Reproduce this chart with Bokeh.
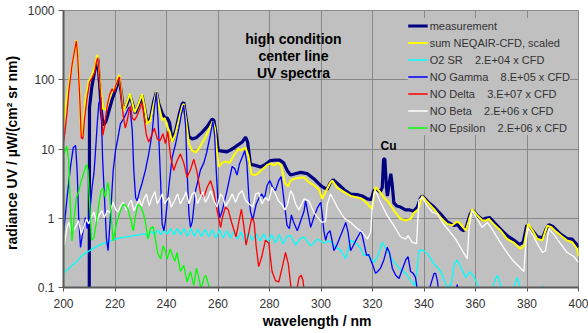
from bokeh.plotting import figure
from bokeh.models import FixedTicker, NumeralTickFormatter, Label, Range1d
from bokeh.embed import file_html
from bokeh.resources import INLINE

# ---------------- data ----------------
x_ticks = [200, 220, 240, 260, 280, 300, 320, 340, 360, 380, 400]
y_ticks = [0.1, 1, 10, 100, 1000]

meas_nm = [210.0, 210.1, 211.0, 212.0, 212.8, 213.3, 214.0, 214.7, 215.4, 216.5,
           217.6, 218.9, 220.2, 221.5, 222.3, 223.2, 224.4, 225.8, 226.8, 227.8,
           229.0, 230.5, 231.4, 232.5, 233.8, 235.0, 236.1, 237.0, 238.3, 239.4,
           240.3, 241.2, 242.2, 243.5, 245.0, 246.1, 246.7, 247.6, 248.7, 250.0,
           251.5, 253.8, 255.8, 257.7, 258.4, 259.3, 260.1, 261.5, 263.5, 265.5,
           267.4, 269.4, 270.7, 271.5, 272.6, 274.5, 276.5, 278.4, 280.4, 282.0,
           284.0, 285.5, 287.0, 288.2, 290.0, 292.1, 294.7, 297.3, 299.9, 301.0,
           302.4, 303.5, 304.7, 306.3, 308.9, 311.5, 314.0, 316.0, 318.0, 319.5,
           320.5, 321.5, 323.0, 323.8, 324.3, 324.8, 325.4, 325.8, 326.5, 327.1,
           327.6, 328.3, 329.5, 330.9, 332.8, 334.5, 336.0, 337.4, 338.5, 339.3,
           340.5, 342.0, 343.9, 346.5, 349.0, 350.5, 351.6, 353.0, 354.5, 355.5,
           356.5, 357.8, 358.9, 360.5, 362.6, 364.0, 365.5, 367.5, 369.8, 372.3,
           375.0, 377.0, 378.5, 379.9, 381.5, 384.0, 386.0, 387.5, 388.5, 390.0,
           393.0, 395.6, 397.5, 399.5, 400.0]
meas_val = [0.09, 40, 79, 126, 178, 200, 89, 35, 22, 25,
            35, 52, 71, 107, 71, 38, 42, 59, 45, 33,
            42, 59, 40, 24, 28, 48, 66, 45, 33, 28,
            28, 24, 13, 18, 32, 45, 47, 28, 15, 14,
            14.5, 17.4, 21, 27, 26, 16, 9.5, 9.3, 9.1, 10,
            11.2, 12.6, 14.8, 12.6, 6.0, 5.8, 5.5, 6.0, 6.8, 6.9,
            6.9, 6.3, 4.8, 4.2, 4.4, 4.6, 4.4, 3.7, 2.95, 2.8,
            2.6, 3.2, 3.6, 3.2, 2.6, 2.24, 2.2, 2.1, 1.9, 1.86,
            2.5, 2.6, 2.4, 2.8, 7.1, 7.2, 2.8, 2.1, 3.2, 4.4,
            3.2, 1.66, 1.5, 1.45, 1.32, 1.32, 1.26, 1.45, 1.9, 2.1,
            1.9, 1.66, 1.45, 1.15, 0.89, 0.83, 0.79, 0.81, 0.69, 0.66,
            0.76, 1.12, 1.32, 1.12, 0.95, 1.0, 1.02, 0.85, 0.69, 0.56,
            0.48, 0.42, 0.45, 0.79, 0.71, 0.54, 0.52, 0.71, 0.81, 0.76,
            0.59, 0.51, 0.50, 0.41, 0.38]

sum_nm = [200.0, 201.0, 202.1, 203.4, 204.7, 205.0, 205.6, 206.3, 206.9, 207.4,
          208.5, 209.8, 211.0, 212.2, 213.1, 213.8, 214.4, 215.4, 216.5, 217.6,
          218.9, 220.2, 221.1, 221.7, 222.4, 223.2, 224.4, 225.8, 226.7, 227.6,
          228.8, 230.5, 231.5, 232.5, 233.8, 235.1, 236.1, 237.0, 238.3, 239.3,
          240.3, 241.2, 242.2, 243.5, 245.0, 246.2, 246.7, 247.6, 248.7, 250.0,
          251.3, 252.5, 254.0, 255.5, 257.0, 257.9, 258.8, 259.5, 260.3, 261.5,
          263.0, 264.5, 266.0, 267.8, 269.0, 270.7, 271.8, 273.0, 274.5, 276.0,
          277.5, 279.1, 280.5, 281.8, 283.2, 284.5, 286.0, 287.2, 288.2, 289.4,
          291.0, 293.4, 295.3, 297.3, 299.2, 300.5, 302.0, 303.5, 304.4, 306.3,
          308.9, 311.5, 314.0, 316.0, 318.0, 319.9, 320.6, 321.2, 322.5, 324.4,
          326.3, 328.3, 330.9, 332.9, 334.8, 336.1, 337.8, 339.3, 340.8, 343.9,
          346.5, 349.0, 351.0, 352.7, 353.6, 355.0, 356.2, 357.3, 358.7, 360.5,
          362.6, 364.0, 365.2, 367.5, 369.8, 372.3, 375.0, 377.5, 378.8, 380.4,
          382.0, 384.0, 386.0, 387.0, 387.9, 389.5, 391.5, 393.7, 395.5, 397.6,
          399.5, 400.0]
sum_val = [20, 45, 89, 158, 316, 372, 224, 56, 16, 15.5,
           50, 95, 112, 158, 229, 141, 78, 38, 37, 52,
           69, 79, 107, 117, 71, 35, 45, 63, 47, 34,
           42, 62, 40, 23, 26, 45, 68, 43, 26, 28,
           21, 18, 12.6, 16.6, 28, 42, 45, 25, 11.7, 9.5,
           8.9, 10, 12.6, 15.8, 21, 25, 20, 10, 5.5, 6.3,
           6.6, 6.3, 7.9, 10, 9.5, 10.5, 7.9, 4.3, 4.2, 4.6,
           5.2, 5.9, 6.2, 5.8, 6.3, 5.8, 3.2, 2.9, 3.5, 3.7,
           3.8, 3.9, 3.3, 3.0, 2.6, 1.9, 2.5, 3.2, 3.5, 2.75,
           2.4, 2.1, 2.0, 1.9, 1.62, 1.35, 2.24, 2.8, 2.5, 2.0,
           1.7, 1.29, 0.98, 0.93, 0.98, 1.2, 1.35, 2.1, 1.8, 1.35,
           1.02, 0.83, 0.79, 0.89, 0.87, 0.76, 0.66, 0.89, 1.35, 1.12,
           0.93, 0.93, 0.98, 0.79, 0.66, 0.50, 0.44, 0.36, 0.40, 0.83,
           0.68, 0.50, 0.48, 0.63, 0.78, 0.74, 0.63, 0.54, 0.48, 0.45,
           0.36, 0.28]

o2_nm = [200.0, 201.5, 203.4, 205.3, 207.2, 209.5, 211.8, 214.4, 217.0, 219.5,
         222.1, 224.7, 227.3, 229.9, 231.5, 232.8, 234.0, 235.3, 236.5, 237.8,
         239.0, 240.3, 241.6, 242.9, 244.2, 245.5, 246.8, 248.1, 249.5, 250.8,
         252.2, 253.6, 255.0, 256.4, 257.8, 259.2, 260.6, 262.0, 263.4, 264.8,
         266.2, 267.6, 269.0, 270.4, 271.8, 273.3, 274.8, 276.3, 277.8, 279.3,
         280.8, 282.3, 283.8, 285.3, 286.8, 288.2, 290.1, 291.8, 293.4, 296.0,
         298.6, 301.2, 303.0, 304.4, 305.7, 307.6, 309.6, 311.5, 313.5, 315.4,
         316.7, 318.0, 320.6, 322.0, 323.8, 325.7, 327.7, 330.3, 332.9, 334.8,
         336.4, 337.3, 338.0, 339.3, 341.3, 343.9, 346.5, 349.0, 350.5, 351.8,
         352.9, 354.5, 356.2, 357.8, 359.5, 361.2, 363.3, 366.0, 367.5, 368.5,
         370.0, 372.0, 374.8, 376.2, 377.8, 380.0, 385.0, 386.2, 387.5, 389.0]
o2_val = [0.16, 0.18, 0.21, 0.24, 0.29, 0.33, 0.37, 0.42, 0.45, 0.49,
          0.52, 0.54, 0.56, 0.58, 0.60, 0.55, 0.65, 0.58, 0.68, 0.58,
          0.69, 0.59, 0.71, 0.58, 0.71, 0.58, 0.71, 0.55, 0.71, 0.55,
          0.69, 0.54, 0.69, 0.54, 0.68, 0.52, 0.68, 0.52, 0.66, 0.52,
          0.65, 0.50, 0.63, 0.46, 0.62, 0.48, 0.60, 0.47, 0.59, 0.45,
          0.58, 0.44, 0.58, 0.43, 0.55, 0.56, 0.41, 0.50, 0.54, 0.40,
          0.50, 0.44, 0.47, 0.44, 0.38, 0.35, 0.26, 0.48, 0.44, 0.37,
          0.29, 0.30, 0.23, 0.28, 0.45, 0.34, 0.25, 0.19, 0.16, 0.126,
          0.107, 0.18, 0.34, 0.35, 0.31, 0.22, 0.17, 0.10, 0.11, 0.22,
          0.25, 0.19, 0.14, 0.17, 0.14, 0.10, 0.079, 0.079, 0.126, 0.15,
          0.10, 0.079, 0.10, 0.14, 0.089, 0.063, 0.089, 0.105, 0.079, 0.063]

gamma_nm = [200.0, 201.4, 202.7, 203.8, 204.7, 205.3, 205.9, 206.6, 207.3, 208.0,
            208.5, 209.2, 209.8, 210.5, 211.1, 211.8, 212.4, 213.1, 213.7, 214.5,
            215.2, 215.9, 216.7, 217.3, 218.2, 219.3, 220.2, 221.2, 222.1, 223.5,
            224.7, 225.4, 226.0, 226.7, 227.3, 228.0, 228.6, 229.6, 230.5, 231.8,
            233.1, 234.4, 235.3, 236.1, 236.8, 237.7, 238.3, 239.0, 239.6, 240.9,
            242.2, 243.5, 244.8, 245.8, 246.7, 247.4, 248.0, 248.7, 249.3, 250.0,
            251.3, 253.2, 254.5, 255.6, 257.0, 258.0, 258.7, 259.3, 260.1, 260.7,
            261.6, 263.5, 265.5, 266.5, 267.4, 268.3, 269.4, 270.4, 271.2, 272.0,
            272.6, 273.5, 274.8, 276.0, 277.0, 278.0, 279.1, 280.1, 281.2, 282.3,
            283.6, 284.5, 285.5, 286.8, 287.7, 288.5, 289.3, 290.8, 292.0, 293.4,
            294.0, 294.7, 296.0, 297.3, 298.6, 299.9, 300.5, 301.1, 301.8, 302.5,
            303.5, 304.2, 305.0, 306.3, 307.6, 308.9, 309.6, 310.5, 311.5, 312.5,
            313.8, 315.6, 316.6, 317.7, 318.5, 319.9, 321.2, 322.0, 323.1, 324.4,
            325.7, 326.6, 327.7, 329.0, 330.3, 331.5, 332.9, 333.8, 334.8, 335.8,
            336.7, 337.5, 338.5, 340.5, 342.6, 343.9, 344.5, 345.2, 345.8, 348.0,
            352.3, 352.9, 353.5, 354.0]
gamma_val = [0.6, 2.0, 5.5, 10.5, 11.2, 4.9, 1.02, 0.38, 0.56, 0.79,
             1.02, 0.71, 1.02, 1.6, 2.8, 4.4, 8.9, 23, 45, 56,
             7.1, 2.0, 0.50, 0.34, 1.02, 4.9, 9.5, 14.8, 23, 28,
             35, 40, 35, 18.6, 4.9, 2.0, 1.78, 2.5, 3.2, 4.9,
             8.5, 16.6, 40, 66, 23, 3.5, 0.83, 0.66, 0.93, 2.8,
             7.6, 11.7, 20, 32, 43, 22, 4.9, 1.15, 0.74, 0.89,
             2.5, 5.0, 6.3, 8.9, 15.8, 25, 15.8, 5.0, 1.45, 1.02,
             1.26, 2.5, 5.6, 5.2, 4.2, 6.0, 7.6, 9.5, 6.3, 2.0,
             1.26, 0.95, 1.58, 2.0, 2.24, 1.9, 3.0, 3.5, 2.8, 2.5,
             3.5, 4.0, 2.0, 0.79, 0.71, 1.12, 0.89, 0.66, 0.89, 1.26,
             1.78, 1.32, 0.74, 1.05, 1.41, 1.7, 1.12, 0.66, 0.48, 0.60,
             0.66, 0.50, 0.34, 0.42, 0.56, 0.74, 0.87, 0.63, 0.34, 0.40,
             0.50, 0.66, 0.45, 0.29, 0.30, 0.22, 0.16, 0.17, 0.19, 0.25,
             0.38, 0.32, 0.19, 0.15, 0.135, 0.18, 0.25, 0.28, 0.17, 0.16,
             0.14, 0.089, 0.063, 0.063, 0.11, 0.16, 0.16, 0.126, 0.08, 0.063,
             0.089, 0.11, 0.08, 0.05]

delta_nm = [200.0, 200.6, 201.4, 202.1, 203.4, 204.3, 205.0, 205.5, 206.3, 206.9,
            207.5, 208.2, 209.2, 210.2, 211.1, 212.0, 212.8, 213.3, 213.9, 214.6,
            215.3, 216.0, 217.0, 218.0, 218.9, 219.6, 220.3, 221.1, 221.7, 222.4,
            223.2, 224.0, 224.7, 225.4, 226.0, 226.7, 227.6, 228.5, 229.9, 230.5,
            231.3, 232.2, 233.1, 234.2, 235.3, 236.4, 237.5, 238.6, 239.6, 240.5,
            241.6, 242.8, 244.0, 245.4, 246.7, 248.0, 249.3, 250.6, 251.8, 253.2,
            254.5, 255.8, 257.1, 258.3, 259.7, 261.0, 261.8, 262.9, 264.0, 265.2,
            267.0, 268.1, 269.1, 270.0, 270.9, 272.0, 273.1, 274.0, 274.8, 275.8,
            277.0, 278.4, 279.7, 281.0, 282.3, 283.6, 285.0, 286.2, 287.3, 288.5,
            289.5, 290.5, 291.5, 292.3, 293.0, 293.6, 294.5]
delta_val = [12.6, 18, 35, 71, 170, 263, 363, 224, 56, 14.5,
             14, 28, 56, 93, 107, 126, 182, 209, 126, 45,
             15.8, 22, 43, 62, 74, 66, 83, 98, 110, 63,
             30, 20, 25, 35, 42, 28, 26, 30, 40, 48,
             28, 15.8, 12.6, 15.8, 20, 14, 13.2, 16.6, 12, 18,
             7.6, 4.9, 6.6, 8.5, 6.3, 3.9, 5.0, 7.1, 4.8, 2.3,
             2.0, 2.8, 3.5, 2.5, 1.26, 0.74, 1.05, 1.45, 1.32, 0.89,
             0.54, 0.89, 1.35, 0.79, 0.41, 0.63, 1.02, 0.89, 0.40, 0.20,
             0.28, 0.48, 0.44, 0.17, 0.126, 0.12, 0.20, 0.32, 0.22, 0.089,
             0.08, 0.089, 0.14, 0.15, 0.126, 0.08, 0.05]

beta_nm = [200.0, 200.4, 201.4, 202.1, 203.0, 204.0, 205.0, 205.8, 206.9, 207.9,
           208.9, 209.8, 210.7, 211.8, 212.8, 213.8, 214.9, 215.9, 217.0, 218.0,
           219.3, 220.2, 221.2, 222.1, 223.2, 224.5, 225.4, 226.3, 227.3, 228.3,
           229.4, 230.2, 231.2, 232.2, 233.3, 234.4, 235.5, 236.4, 237.4, 238.3,
           239.3, 240.9, 241.9, 243.2, 244.3, 245.4, 246.7, 247.6, 248.7, 250.0,
           251.0, 252.0, 253.2, 254.1, 255.1, 256.2, 257.1, 258.4, 259.6, 261.0,
           261.9, 262.9, 264.2, 265.5, 266.8, 268.1, 269.4, 270.7, 272.0, 273.5,
           274.6, 275.8, 277.1, 278.4, 279.7, 281.0, 282.3, 283.5, 284.8, 286.0,
           287.0, 288.2, 289.0, 290.1, 291.4, 293.4, 295.3, 297.3, 299.2, 300.5,
           301.8, 302.4, 303.7, 306.3, 308.9, 311.5, 314.1, 316.0, 318.0, 319.3,
           320.0, 320.6, 321.2, 323.1, 325.7, 328.3, 330.9, 332.9, 333.8, 335.4,
           337.1, 338.0, 339.3, 341.3, 343.2, 345.2, 347.1, 349.7, 352.3, 354.9,
           356.8, 357.5, 358.7, 360.6, 362.6, 364.6, 366.5, 369.1, 371.7, 374.3,
           377.5, 378.8, 379.5, 380.4, 382.2, 384.0, 386.0, 387.2, 388.5, 390.5,
           393.0, 395.6, 398.2, 400.0]
beta_val = [0.40, 0.43, 0.76, 0.87, 0.66, 0.68, 0.79, 0.93, 0.59, 0.76,
            0.98, 0.83, 1.02, 1.23, 0.87, 1.1, 1.29, 1.02, 1.29, 1.2,
            1.7, 1.35, 1.23, 1.51, 1.7, 1.29, 1.62, 1.82, 1.29, 1.51,
            1.9, 1.45, 1.9, 2.24, 1.51, 2.0, 2.4, 1.62, 1.9, 2.24,
            1.62, 2.0, 1.45, 1.82, 2.24, 1.62, 2.0, 2.4, 1.62, 2.24,
            2.4, 1.62, 2.0, 2.4, 1.7, 2.0, 2.5, 1.82, 1.45, 2.24,
            2.0, 1.51, 1.78, 2.24, 1.7, 2.24, 2.5, 1.82, 1.62, 1.45,
            2.24, 2.34, 1.62, 2.0, 1.78, 2.8, 2.24, 1.78, 1.58, 1.32,
            1.58, 2.5, 2.24, 1.62, 1.32, 1.9, 1.78, 1.2, 0.98, 0.87,
            0.91, 1.58, 2.24, 1.45, 1.02, 0.87, 0.71, 0.63, 0.50, 0.63,
            1.58, 2.24, 2.5, 1.7, 1.1, 0.78, 0.54, 0.50, 0.56, 0.45,
            0.43, 1.82, 2.0, 1.51, 1.23, 1.15, 0.87, 0.66, 0.50, 0.34,
            0.26, 0.74, 1.29, 0.98, 0.74, 0.87, 0.69, 0.48, 0.34, 0.25,
            0.19, 0.17, 0.43, 0.74, 0.58, 0.43, 0.32, 0.34, 0.71, 0.58,
            0.43, 0.32, 0.28, 0.23]

eps_nm = [200.0, 200.1, 201.2, 202.0, 202.6, 203.3, 204.0, 205.0, 206.0, 206.9,
          207.9, 208.9, 209.5, 210.1, 210.9, 211.8, 212.8, 213.7, 214.6, 215.4,
          216.2, 217.2, 217.8, 218.6, 219.3, 220.2, 221.1, 222.1, 223.2, 224.1,
          225.1, 226.3, 227.1, 228.0, 228.9, 230.0, 231.0, 231.8, 232.8, 233.8,
          234.8, 235.7, 236.6, 237.7, 238.7, 239.6, 240.3, 241.4, 242.5, 243.3,
          244.1, 245.4, 246.7, 248.0, 249.3, 250.6, 251.6, 252.5, 253.4, 254.5,
          255.3, 256.4, 257.0]
eps_val = [0.08, 8.3, 11, 7.2, 1.78, 0.47, 0.89, 2.0, 2.5, 3.5,
           4.5, 6.0, 5.0, 1.78, 0.48, 0.52, 0.89, 1.58, 2.5, 2.7,
           2.0, 3.3, 2.5, 1.0, 0.47, 0.71, 1.0, 1.26, 1.58, 1.55,
           1.32, 0.89, 0.66, 1.1, 1.58, 1.48, 1.17, 0.89, 0.50, 0.71,
           0.76, 0.50, 0.31, 0.26, 0.40, 0.33, 0.26, 0.36, 0.28, 0.24,
           0.32, 0.17, 0.21, 0.12, 0.17, 0.107, 0.19, 0.14, 0.095, 0.135,
           0.15, 0.107, 0.063]

NB = "\u00a0"
series = [
    ("measurement", meas_nm, meas_val, "#000080", 3.2),
    ("sum NEQAIR-CFD, scaled", sum_nm, sum_val, "#FFFF00", 2.0),
    ("O2 SR " + NB * 3 + "2.E+04 x CFD", o2_nm, o2_val, "#00FFFF", 1.3),
    ("NO Gamma " + NB * 3 + "8.E+05 x CFD", gamma_nm, gamma_val, "#0000FF", 1.3),
    ("NO Delta " + NB * 3 + "3.E+07 x CFD", delta_nm, delta_val, "#FF0000", 1.3),
    ("NO Beta " + NB * 3 + "2.E+06 x CFD", beta_nm, beta_val, "#FFFFFF", 1.3),
    ("NO Epsilon " + NB * 3 + "2.E+06 x CFD", eps_nm, eps_val, "#00FF00", 1.3),
]

FONT = "Liberation Sans"

p = figure(width=588, height=333, x_range=Range1d(200, 400), y_range=Range1d(0.1, 1000),
           y_axis_type="log", output_backend="svg", toolbar_location=None,
           min_border_left=63, min_border_right=10, min_border_top=10, min_border_bottom=46)
p.background_fill_color = "#C0C0C0"
p.border_fill_color = "white"
p.outline_line_color = "#888888"

for name, xs, ys, col, w in series:
    p.line(xs, ys, line_color=col, line_width=w, legend_label=name)

p.xaxis.ticker = FixedTicker(ticks=x_ticks)
p.yaxis.ticker = FixedTicker(ticks=y_ticks)
p.xgrid.ticker = FixedTicker(ticks=x_ticks)
p.ygrid.ticker = FixedTicker(ticks=y_ticks)
p.xaxis.formatter = NumeralTickFormatter(format="0")
p.yaxis.formatter = NumeralTickFormatter(format="0.[0]")
for g in (p.xgrid, p.ygrid):
    g.grid_line_color = "#888888"
    g.grid_line_width = 1

for ax in (p.xaxis, p.yaxis):
    ax.axis_line_color = "#5a5a5a"
    ax.axis_line_width = 2
    ax.major_tick_line_color = "#5a5a5a"
    ax.major_tick_in = 0
    ax.minor_tick_line_color = None
    ax.major_label_text_font = FONT
    ax.major_label_text_font_size = "12px"
    ax.major_label_text_color = "#333333"
    ax.axis_label_text_font = FONT
    ax.axis_label_text_font_style = "bold"
    ax.axis_label_text_font_size = "14px"
    ax.axis_label_text_color = "black"

p.xaxis.major_tick_out = 4
p.yaxis.major_tick_out = 5
p.xaxis.major_label_standoff = 7
p.yaxis.major_label_standoff = 4
p.xaxis.axis_label = "wavelength  /  nm"
p.yaxis.axis_label = "radiance UV  /  µW/(cm² sr nm)"
p.xaxis.axis_label_standoff = 2
p.yaxis.axis_label_standoff = 5

lg = p.legend[0]
lg.location = "top_right"
lg.background_fill_color = "#C0C0C0"
lg.background_fill_alpha = 1.0
lg.border_line_color = None
lg.label_text_font = FONT
lg.label_text_font_size = "11px"
lg.label_text_color = "#333333"
lg.glyph_width = 20
lg.glyph_height = 15
lg.label_height = 15
lg.spacing = 2
lg.padding = 4
lg.margin = 8
lg.label_standoff = 2

for txt, yv in (("high condition", 392), ("center line", 223), ("UV spectra", 127)):
    p.add_layout(Label(x=289.3, y=yv, text=txt, text_align="center", text_baseline="middle",
                       text_font=FONT, text_font_style="bold", text_font_size="14px",
                       text_color="black"))
p.add_layout(Label(x=326.2, y=11.2, text="Cu", text_align="center", text_baseline="middle",
                   text_font=FONT, text_font_style="bold", text_font_size="12px",
                   text_color="black"))

open("out.html", "w").write(file_html(p, INLINE))
